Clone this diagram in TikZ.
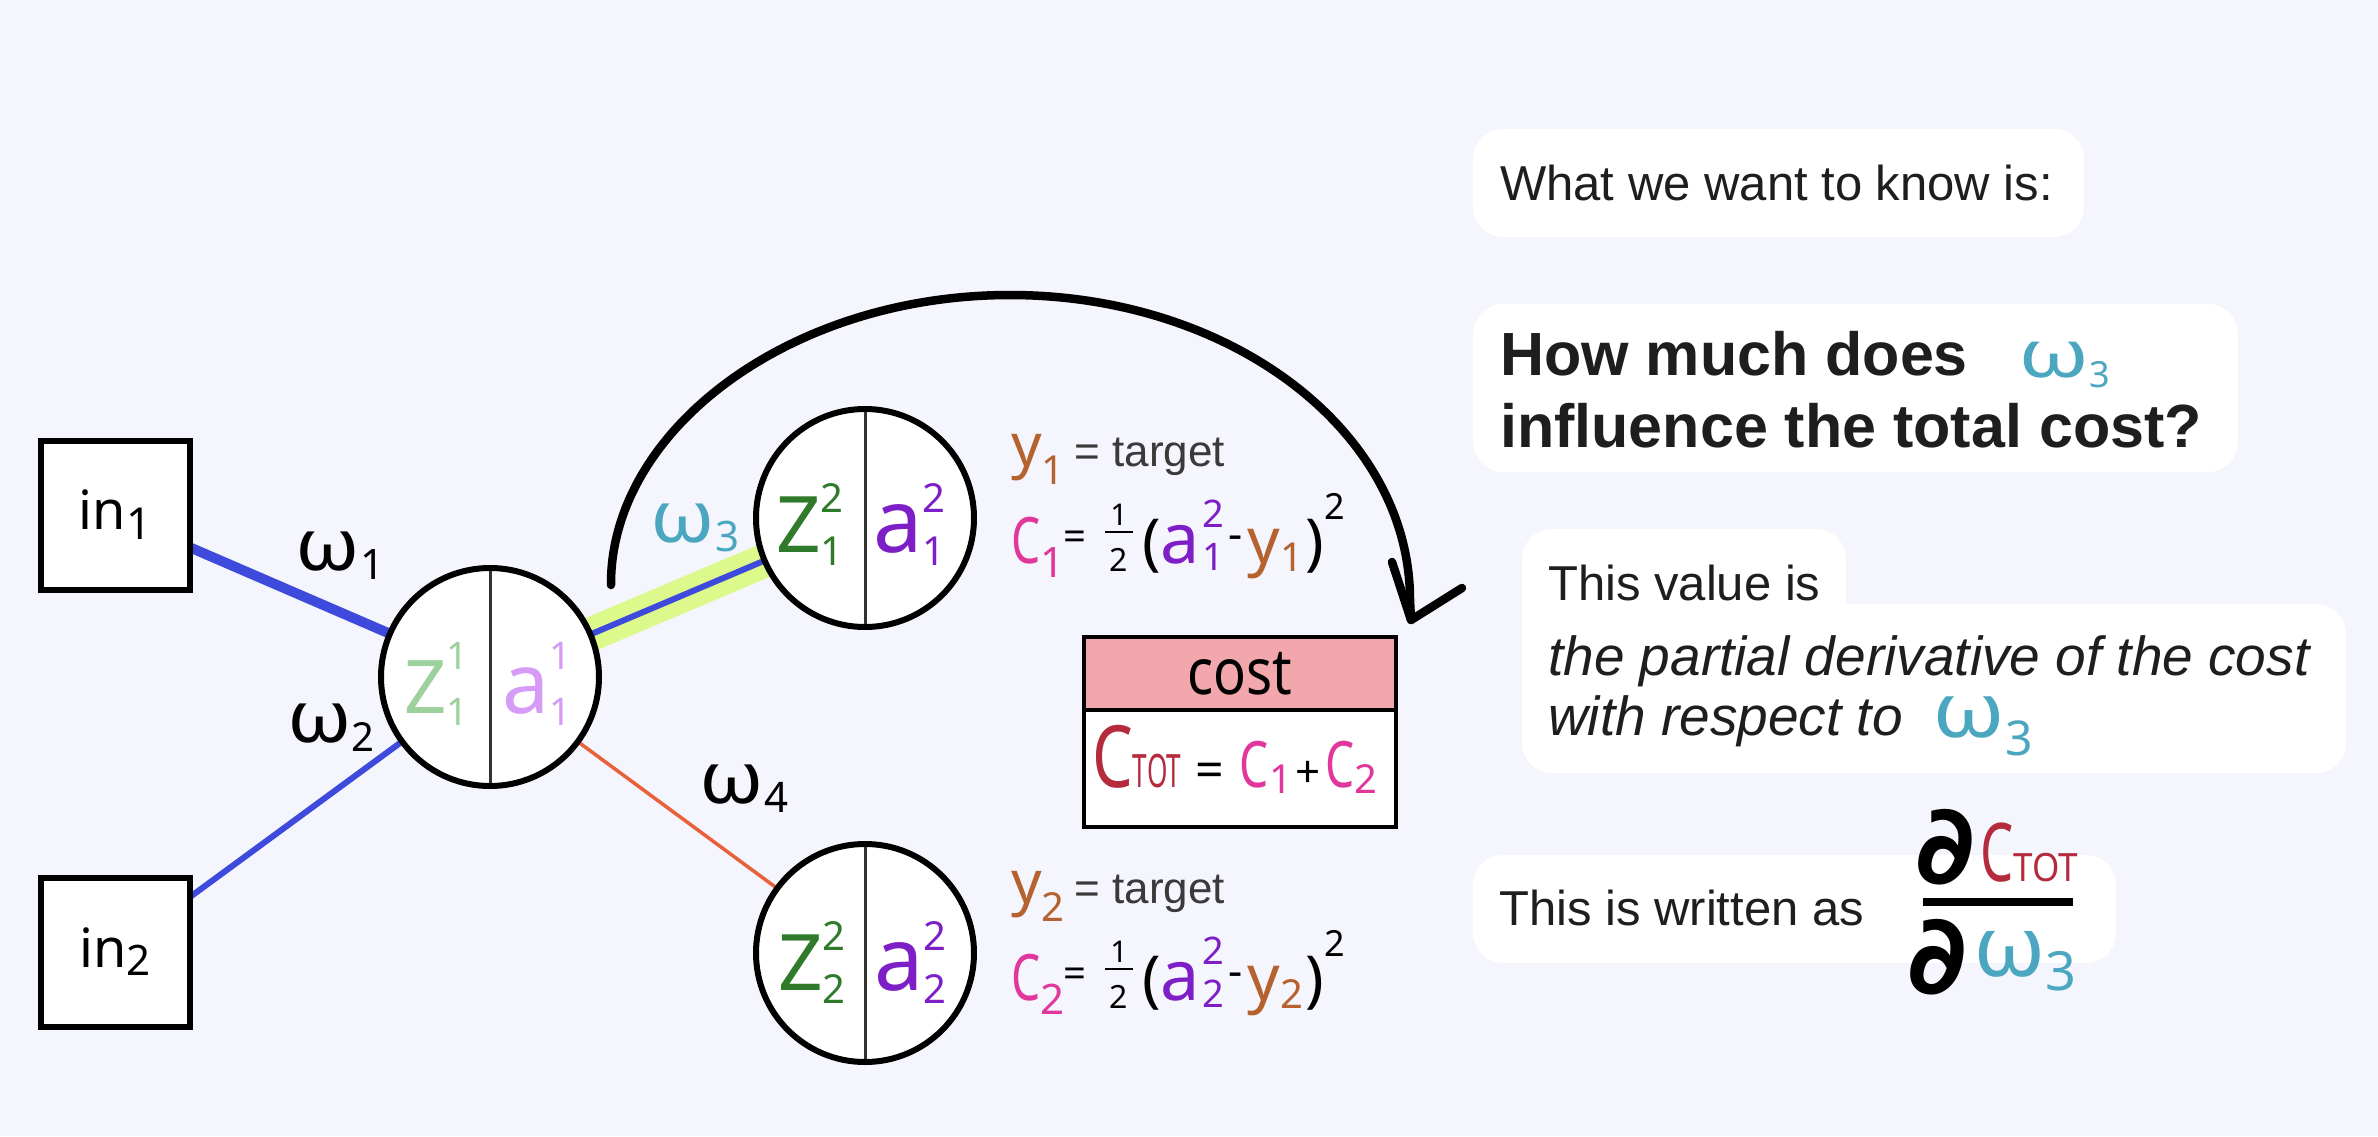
\documentclass[tikz,border=0pt]{standalone}
\usepackage{fontspec}
\setmainfont{Liberation Sans}
\newfontfamily\hand{Noto Sans}
\newfontfamily\symf{DejaVu Sans}
\usetikzlibrary{calc}
\definecolor{bgc}{HTML}{F4F5FD}
\definecolor{cblue}{HTML}{3D4ADB}
\definecolor{chl}{HTML}{DDF98C}
\definecolor{corange}{HTML}{E8613A}
\definecolor{cteal}{HTML}{4BA7BF}
\definecolor{clgreen}{HTML}{9CD19E}
\definecolor{clpurple}{HTML}{D59BF6}
\definecolor{cdgreen}{HTML}{2F7A2B}
\definecolor{cdpurple}{HTML}{7D1EC6}
\definecolor{cbrown}{HTML}{B5622E}
\definecolor{cpink}{HTML}{E1369C}
\definecolor{cred}{HTML}{B42B3E}
\definecolor{ccost}{HTML}{F2A7AC}
\definecolor{cdiv}{HTML}{333333}
\definecolor{ctext}{HTML}{1E1E1E}
\definecolor{cgray}{HTML}{3A3A3A}
\pgfdeclarelayer{bglayer}
\pgfdeclarelayer{edgelayer}
\pgfsetlayers{bglayer,edgelayer,main}
\newcommand{\setfs}[1]{\fontsize{#1}{#1}\selectfont}
\newcommand{\stackss}[5]{\makebox[0pt][l]{\raisebox{#4}{\setfs{#3}#1}}\raisebox{#5}{\setfs{#3}#2}}
\newcommand{\lowsub}[3]{\raisebox{#3}{\setfs{#2}#1}}
\newcommand{\omg}[1]{\scalebox{#1}[1]{ω}}
\begin{document}
\begin{tikzpicture}[x=1pt,y=-1pt,
  inbox/.style={draw, line width=6pt, fill=white, minimum width=149pt, minimum height=149pt, inner sep=0pt, font=\hand},
  neuron/.style={circle, draw, line width=6pt, fill=white, minimum size=218pt, inner sep=0pt},
  lbl/.style={inner sep=0pt, font=\hand},
  txt/.style={inner sep=0pt, anchor=base west, text=ctext},
  bubble/.style={fill=white, rounded corners=30pt},
  arcline/.style={line width=8.5pt, line cap=round, line join=round},
  divline/.style={line width=3pt, cdiv},
  costcell/.style={draw, line width=4pt, minimum width=312pt, inner sep=0pt, font=\hand},
  pdnode/.style={inner sep=0pt, font=\symf\bfseries}]

\begin{pgfonlayer}{bglayer}
\fill[bgc] (0,0) rectangle (2378,1136);
\fill[bubble] (1473,129) rectangle (2084,237);
\fill[bubble] (1473,304) rectangle (2238,472);
\fill[bubble] (1522,529) rectangle (1846,700);
\fill[bubble] (1522,604) rectangle (2346,773);
\fill[bubble] (1473,855) rectangle (2116,963);
\end{pgfonlayer}
\useasboundingbox (0,0) rectangle (2378,1136);

% input boxes
\node[inbox] (in1) at (115,515) {\setfs{54}in\lowsub{1}{44}{-10pt}};
\node[inbox] (in2) at (115,952) {\setfs{54}in\lowsub{2}{42}{-8pt}};

% neurons
\node[neuron] (h1) at (490,677) {};
\node[neuron] (o1) at (865,518) {};
\node[neuron] (o2) at (865,953) {};
\draw[divline] ($(h1.north)+(0,6)$) -- ($(h1.south)+(0,-6)$);
\draw[divline] ($(o1.north)+(0,6)$) -- ($(o1.south)+(0,-6)$);
\draw[divline] ($(o2.north)+(0,6)$) -- ($(o2.south)+(0,-6)$);

% edges
\begin{pgfonlayer}{edgelayer}
\draw[cblue, line width=10pt] (in1.center) -- (h1.center);
\draw[cblue, line width=6pt] (in2.center) -- (h1.center);
\draw[chl, line width=34pt] (h1.center) -- (o1.center);
\draw[cblue, line width=6pt] (h1.center) -- (o1.center);
\draw[corange, line width=3.5pt] (h1.center) -- (o2.center);
\end{pgfonlayer}

% weight labels
\node[lbl] (w1) at (340,556) {\setfs{72}\omg{1.12}\lowsub{1}{42}{-9pt}};
\node[lbl] (w2) at (331,728) {\setfs{72}\omg{1.12}\lowsub{2}{40}{-9pt}};
\node[lbl, text=cteal] (w3) at (695,528) {\setfs{72}\omg{1.12}\lowsub{3}{42}{-9pt}};
\node[lbl] (w4) at (744,789) {\setfs{72}\omg{1.12}\lowsub{4}{42}{-9pt}};

% neuron contents
\node[lbl, anchor=base west, text=clgreen] (h1z) at (404,713) {\setfs{74}Z\stackss{1}{1}{38}{44pt}{-12pt}};
\node[lbl, anchor=base west, text=clpurple] (h1a) at (502,713) {\setfs{84}a\stackss{1}{1}{38}{44pt}{-12pt}};
\node[lbl, anchor=base west, text=cdgreen] (o1z) at (776,552) {\setfs{78}Z\stackss{2}{1}{40}{40pt}{-13pt}};
\node[lbl, anchor=base west, text=cdpurple] (o1a) at (873,552) {\setfs{88}a\stackss{2}{1}{40}{40pt}{-13pt}};
\node[lbl, anchor=base west, text=cdgreen] (o2z) at (778,990) {\setfs{78}Z\stackss{2}{2}{40}{40pt}{-13pt}};
\node[lbl, anchor=base west, text=cdpurple] (o2a) at (874,990) {\setfs{88}a\stackss{2}{2}{40}{40pt}{-13pt}};

% output 1 labels
\node[lbl, anchor=base west] (y1t) at (1011,466) {\textcolor{cbrown}{\setfs{60}y\lowsub{1}{40}{-18pt}}\hspace{10pt}{\normalfont\setfs{44}\color{cgray}= target}};
\node[lbl, anchor=base west, text=cpink] (c1C) at (1011,563) {\setfs{64}\scalebox{0.72}[1]{C}\lowsub{1}{42}{-14pt}};
\node[lbl] (c1eq) at (1075,541) {\setfs{40}=};
\node[lbl] (c1one) at (1119,515) {\setfs{30}1};
\node[lbl] (c1two) at (1119,560) {\setfs{32}2};
\draw[line width=2.5pt] ($(c1one.south)+(-14,6)$) -- ($(c1one.south)+(14,6)$);
\node[lbl, anchor=base west] (c1p) at (1142,563) {\setfs{62}(\textcolor{cdpurple}{\setfs{70}a\hspace{2pt}\stackss{2}{1}{38}{36pt}{-7pt}}\hspace{5pt}\setfs{44}\raisebox{14pt}{-}\hspace{5pt}\textcolor{cbrown}{\setfs{64}y\lowsub{1}{40}{-8pt}}\hspace{2pt}\setfs{62})\raisebox{44pt}{\setfs{36}2}};

% output 2 labels
\node[lbl, anchor=base west] (y2t) at (1011,903) {\textcolor{cbrown}{\setfs{60}y\lowsub{2}{40}{-18pt}}\hspace{10pt}{\normalfont\setfs{44}\color{cgray}= target}};
\node[lbl, anchor=base west, text=cpink] (c2C) at (1011,1000) {\setfs{64}\scalebox{0.72}[1]{C}\lowsub{2}{42}{-14pt}};
\node[lbl] (c2eq) at (1075,978) {\setfs{40}=};
\node[lbl] (c2one) at (1119,952) {\setfs{30}1};
\node[lbl] (c2two) at (1119,997) {\setfs{32}2};
\draw[line width=2.5pt] ($(c2one.south)+(-14,6)$) -- ($(c2one.south)+(14,6)$);
\node[lbl, anchor=base west] (c2p) at (1142,1000) {\setfs{62}(\textcolor{cdpurple}{\setfs{70}a\hspace{2pt}\stackss{2}{2}{38}{36pt}{-7pt}}\hspace{5pt}\setfs{44}\raisebox{14pt}{-}\hspace{5pt}\textcolor{cbrown}{\setfs{64}y\lowsub{2}{40}{-8pt}}\hspace{2pt}\setfs{62})\raisebox{44pt}{\setfs{36}2}};

% cost box
\node[costcell, fill=ccost, minimum height=73pt] (costhead) at (1240,673.5) {\setfs{64}\scalebox{0.85}[1]{cost}};
\node[costcell, fill=white, minimum height=117pt] (costbody) at (1240,768.5) {};
\node[lbl, anchor=base west] (ctot) at (1092,787) {\textcolor{cred}{\setfs{86}\scalebox{0.75}[1]{C}\scalebox{0.57}[1]{\setfs{46}TOT}}\hspace{14pt}\setfs{50}=\hspace{16pt}\textcolor{cpink}{\setfs{64}\scalebox{0.72}[1]{C}\lowsub{1}{40}{-6pt}}\hspace{4pt}\setfs{44}+\hspace{4pt}\textcolor{cpink}{\setfs{64}\scalebox{0.72}[1]{C}\lowsub{2}{40}{-6pt}}};

% big arrow
\coordinate (arcS) at (611,585);
\coordinate (arcT) at (1010,295);
\coordinate (arcE) at (1411,620);
\draw[arcline] (arcS) .. controls (610,431) and (789,295) .. (arcT) .. controls (1231,295) and (1410,431) .. (1410,600) -- (arcE);
\draw[arcline] (1392,562) -- (arcE) -- (1462,588);

% right texts
\node[txt, font={\setfs{49}}] (t1) at (1500,200) {What we want to know is:};
\node[txt, font={\bfseries\setfs{61}}] (t2a) at (1500,375) {How much does};
\node[txt, font={\bfseries\setfs{61}}] (t2b) at (1500,447) {influence the total cost?};
\node[lbl, text=cteal, anchor=base west] (t2w) at (2018,377) {\setfs{66}\omg{1.35}\lowsub{3}{36}{-10pt}};
\node[txt, font={\setfs{49}}] (t3) at (1548,600) {This value is};
\node[txt, font={\itshape\setfs{55}}] (t4a) at (1548,675) {the partial derivative of the cost};
\node[txt, font={\itshape\setfs{55}}] (t4b) at (1548,735) {with respect to};
\node[lbl, text=cteal, anchor=base west] (t4w) at (1932,737) {\setfs{76}\omg{1.2}\lowsub{3}{48}{-18pt}};
\node[txt, font={\setfs{49}}] (t5) at (1499,925) {This is written as};

% fraction
\node[pdnode, anchor=base] (pd1) at (1945,883) {\setfs{110}∂};
\node[lbl, anchor=base west, text=cred] (fC) at (1980,881) {\setfs{81}\scalebox{0.65}[1]{C}\scalebox{0.9}[1]{\setfs{39}TOT}};
\node[pdnode, anchor=base] (pd2) at (1937,993) {\setfs{110}∂};
\node[lbl, text=cteal, anchor=base west] (fw3) at (1973,976) {\setfs{84}\omg{1.08}\lowsub{3}{54}{-14pt}};
\draw[line width=8pt] (1923,902) -- (2073,902);
\end{tikzpicture}
\end{document}
